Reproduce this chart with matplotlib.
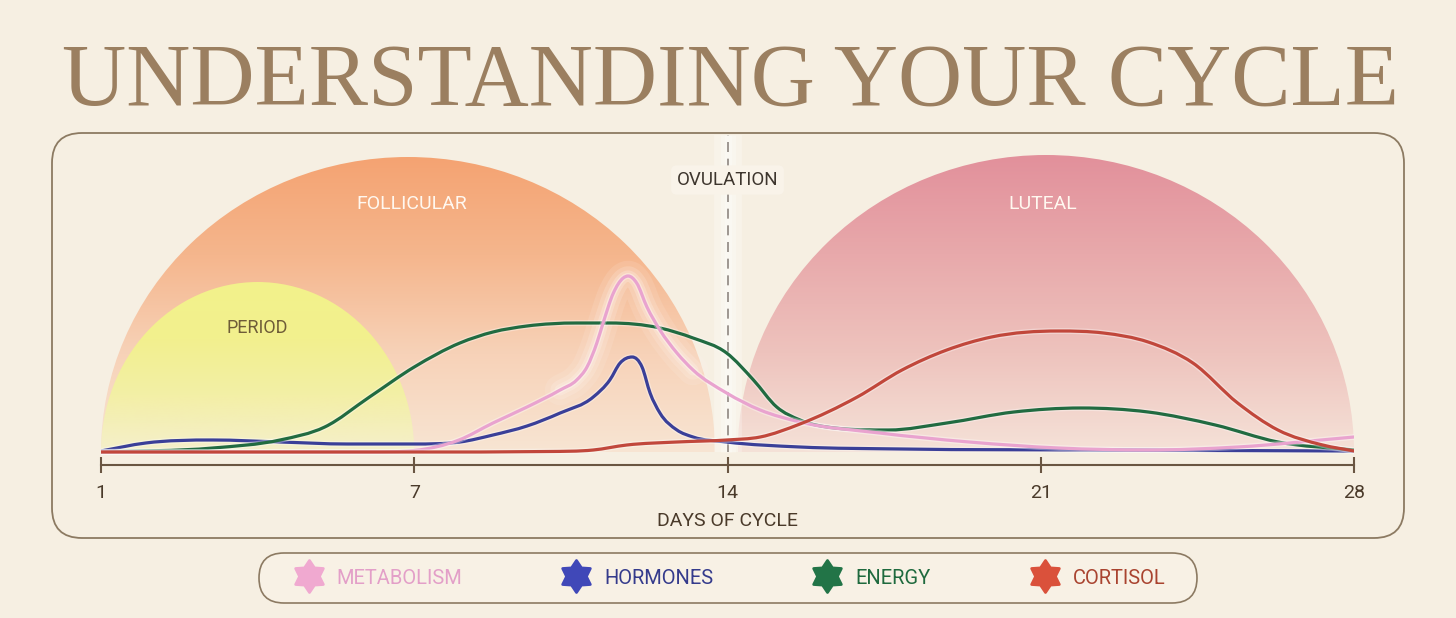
import numpy as np
import matplotlib
matplotlib.use("Agg")
import matplotlib.pyplot as plt
import matplotlib.patheffects as pe
from matplotlib import font_manager
from matplotlib.patches import Ellipse, FancyBboxPatch, PathPatch
from matplotlib.path import Path
from matplotlib.colors import LinearSegmentedColormap
from matplotlib.lines import Line2D

# ---- data (x = position on the cycle axis, 0 -> day 1, 28 -> day 28) ----
tick_pos = [0, 7, 14, 21, 28]
tick_labels = ["1", "7", "14", "21", "28"]

metabolism_x = [0, 3.5, 6.0, 7.0, 8.0, 8.76, 9.52, 10.26, 10.63, 10.86, 11.08, 11.22, 11.45,
                11.67, 11.78, 11.97, 12.2, 12.49, 12.87, 13.23, 13.98, 14.73, 15.62,
                17.4, 19.4, 21.4, 23.4, 25.4, 28]
metabolism_y = [0, 0, 0, 1.5, 12, 29, 45, 62, 72, 85, 109, 129, 159,
                174, 176, 169, 145, 122, 99, 82, 59, 42, 30,
                19, 10, 4, 2, 5, 15]

hormones_x = [0, 1.0, 2.5, 4.0, 5.5, 7.0, 8.02, 8.76, 9.52, 10.26, 11.0, 11.37, 11.6,
              11.87, 12.09, 12.27, 12.49, 12.87, 13.23, 13.98, 15.62, 17.9, 22.3, 28]
hormones_y = [1, 9, 12, 10, 8, 8, 10, 17, 26, 39, 55, 72, 89,
              95, 85, 59, 39, 22, 15, 10, 5, 3, 2, 1]

energy_x = [0, 2.5, 4.0, 5.0, 6.0, 7.0, 8.02, 8.76, 9.52, 10.63, 11.37, 12.49, 13.23,
            13.98, 14.58, 15.1, 15.62, 16.4, 17.6, 18.9, 20.4, 21.9, 23.4, 24.9, 26.3, 28]
energy_y = [0, 4, 12, 25, 55, 85, 109, 120, 126, 129, 129, 124, 114,
            99, 72, 45, 32, 24, 22, 29, 40, 44, 40, 27, 10, 2]

cortisol_x = [0, 7.0, 10.0, 11.0, 11.75, 12.87, 13.98, 14.73, 15.62, 16.9, 17.9, 18.9, 19.9,
              21.4, 22.4, 23.4, 24.4, 25.4, 26.3, 27.3, 28]
cortisol_y = [0, 0, 0.5, 2, 7, 10, 12, 15, 28, 55, 82, 102, 115,
              121, 119, 110, 89, 49, 22, 7, 1]

series_names = ["METABOLISM", "HORMONES", "ENERGY", "CORTISOL"]
line_colors = ["#E9A3CF", "#3A3F98", "#216B41", "#C1473B"]
star_colors = ["#F0A9D0", "#4048B8", "#227447", "#DA513B"]
text_colors = ["#E39FC8", "#353B8C", "#1F6A3E", "#A9432F"]

# phases: name, start, end, height, gradient colours (bottom -> top)
phase_names = ["FOLLICULAR", "PERIOD", "LUTEAL"]
phase_start = [0.0, 0.0, 14.23]
phase_end = [13.72, 7.0, 28.0]
phase_height = [295, 170, 297]
phase_colors = [["#F8E5D3", "#F7D2B8", "#F5B68D", "#F4A372"],
                ["#F5EFCB", "#F3EFA6", "#F2F08E", "#F3F28B"],
                ["#F5E2D8", "#EEC3BD", "#E8A9AB", "#E2909B"]]

BG = "#F6EFE2"
BROWN = "#8C7A62"


def pick_font(*names):
    have = {f.name for f in font_manager.fontManager.ttflist}
    for n in names:
        if n in have:
            return n
    return "DejaVu Sans"


SANS = pick_font("Roboto", "Liberation Sans", "DejaVu Sans")
SERIF = pick_font("Liberation Serif", "DejaVu Serif")


def smooth_path(xs, ys):
    # local cubic through the read points (3-point slopes, limited so it never
    # overshoots), written as bezier segments
    x = np.asarray(xs, float)
    y = np.asarray(ys, float)
    n = len(x)
    h = np.diff(x)
    d = np.diff(y) / h
    m = np.zeros(n)
    m[0], m[-1] = d[0], d[-1]
    for k in range(1, n - 1):
        if d[k - 1] * d[k] > 0:
            p = (h[k] * d[k - 1] + h[k - 1] * d[k]) / (h[k - 1] + h[k])
            lim = 3 * min(abs(d[k - 1]), abs(d[k]))
            m[k] = np.sign(p) * min(abs(p), lim)
    verts = [(x[0], y[0])]
    codes = [Path.MOVETO]
    for i in range(n - 1):
        dx = h[i]
        verts += [(x[i] + dx / 3, y[i] + m[i] * dx / 3),
                  (x[i + 1] - dx / 3, y[i + 1] - m[i + 1] * dx / 3),
                  (x[i + 1], y[i + 1])]
        codes += [Path.CURVE4] * 3
    return Path(verts, codes)


def star_marker(points=6, inner=0.62):
    ang = np.pi / 2 + np.arange(2 * points) * np.pi / points
    r = np.tile([1.0, inner], points)
    v = np.column_stack([r * np.cos(ang), r * np.sin(ang)])
    v = np.vstack([v, v[:1]])
    return Path(v, [Path.MOVETO] + [Path.LINETO] * (len(v) - 2) + [Path.CLOSEPOLY])


fig = plt.figure(figsize=(14.56, 6.18), dpi=100, facecolor=BG)

# background layer in pixel coordinates
bg = fig.add_axes([0, 0, 1, 1], zorder=0)
bg.set_xlim(0, 1456)
bg.set_ylim(618, 0)
bg.axis("off")
bg.add_patch(FancyBboxPatch((52, 133), 1352, 405,
                            boxstyle="round,pad=0,rounding_size=30",
                            fc="none", ec=BROWN, lw=1.3))
bg.add_patch(FancyBboxPatch((259, 553), 938, 50,
                            boxstyle="round,pad=0,rounding_size=25",
                            fc="#F8F1E5", ec=BROWN, lw=1.2))
bg.text(730, 105, "UNDERSTANDING YOUR CYCLE", ha="center", va="baseline",
        fontsize=64, family=SERIF, color="#9B7F60")

# chart
ax = fig.add_axes([101 / 1456, (618 - 465) / 618, 1253 / 1456, 325 / 618], zorder=1)
ax.patch.set_alpha(0)

for i, name in enumerate(phase_names):
    cx = (phase_start[i] + phase_end[i]) / 2
    hw = (phase_end[i] - phase_start[i]) / 2
    h = phase_height[i]
    cmap = LinearSegmentedColormap.from_list(name, phase_colors[i])
    clip = Ellipse((cx, 0), 2 * hw, 2 * h, fc="none", ec="none")
    ax.add_patch(clip)
    im = ax.imshow(np.linspace(0, 1, 256).reshape(-1, 1), cmap=cmap, origin="lower",
                   extent=(cx - hw, cx + hw, 0, h), aspect="auto",
                   interpolation="bicubic", zorder=1 + i * 0.1)
    im.set_clip_path(clip)

# phase labels
ax.text(6.95, 243, "FOLLICULAR", ha="center", va="baseline", fontsize=14,
        family=SANS, color="#FFF8F0", zorder=4)
ax.text(21.05, 243, "LUTEAL", ha="center", va="baseline", fontsize=14,
        family=SANS, color="#FFF8F0", zorder=4)
ax.text(3.5, 119, "PERIOD", ha="center", va="baseline", fontsize=13,
        family=SANS, color="#6E5C38", zorder=4)

# ovulation marker
for w in [20, 11, 5]:
    ax.plot([14, 14], [0, 317], color="white", lw=w, alpha=0.25,
            solid_capstyle="butt", zorder=3, clip_on=False)
ax.plot([14, 14], [0, 317], color="#8F8780", lw=1.2, dashes=(6, 4),
        zorder=3.5, clip_on=False)
ax.text(14, 267, "OVULATION", ha="center", va="baseline", fontsize=13.5,
        family=SANS, color="#3E362E", zorder=4,
        bbox=dict(boxstyle="round,pad=0.3", fc="#F9F3E9", ec="none"))

# soft halo around the metabolism peak
peak = [(x, y) for x, y in zip(metabolism_x, metabolism_y) if 10.2 <= x <= 13.3]
halo = smooth_path([p[0] for p in peak], [p[1] for p in peak])
for w, a in [(22, 0.12), (14, 0.18), (8, 0.25)]:
    ax.add_patch(PathPatch(halo, fc="none", ec="#FFF7F3", lw=w, alpha=a,
                           capstyle="round", joinstyle="round", zorder=5))

# curves
series = [(hormones_x, hormones_y, 1), (energy_x, energy_y, 2),
          (metabolism_x, metabolism_y, 0), (cortisol_x, cortisol_y, 3)]
for k, (xs, ys, ci) in enumerate(series):
    patch = PathPatch(smooth_path(xs, ys), fc="none", ec=line_colors[ci], lw=2.3,
                      capstyle="round", joinstyle="round", zorder=6 + k)
    patch.set_path_effects([pe.Stroke(linewidth=4.2, foreground="white", alpha=0.35),
                            pe.Normal()])
    ax.add_patch(patch)

ax.set_xlim(0, 28)
ax.set_ylim(-13, 312)
for s in ["top", "left", "right"]:
    ax.spines[s].set_visible(False)
ax.spines["bottom"].set_color("#6A5642")
ax.spines["bottom"].set_linewidth(1.5)
ax.set_yticks([])
ax.set_xticks(tick_pos, tick_labels)
ax.tick_params(axis="x", direction="inout", length=11.5, width=1.5, color="#6A5642",
               labelcolor="#4A3A2A", labelsize=14, pad=8)
for t in ax.get_xticklabels():
    t.set_family(SANS)
ax.set_xlabel("DAYS OF CYCLE", fontsize=14, family=SANS, color="#4A3A2A", labelpad=7)

# legend
star = star_marker()
handles = [Line2D([], [], marker=star, ls="none", ms=23, mfc=c, mec=c,
                  markeredgewidth=2) for c in star_colors]
fig.legend(handles, series_names, loc="center", bbox_to_anchor=(729 / 1456, 1 - 578 / 618),
           ncol=4, frameon=False, prop={"family": SANS, "size": 14.5},
           handlelength=1.6, handletextpad=0.59, columnspacing=4.86,
           labelcolor=text_colors, borderpad=0)

fig.savefig("out.png", dpi=100, facecolor=BG)
